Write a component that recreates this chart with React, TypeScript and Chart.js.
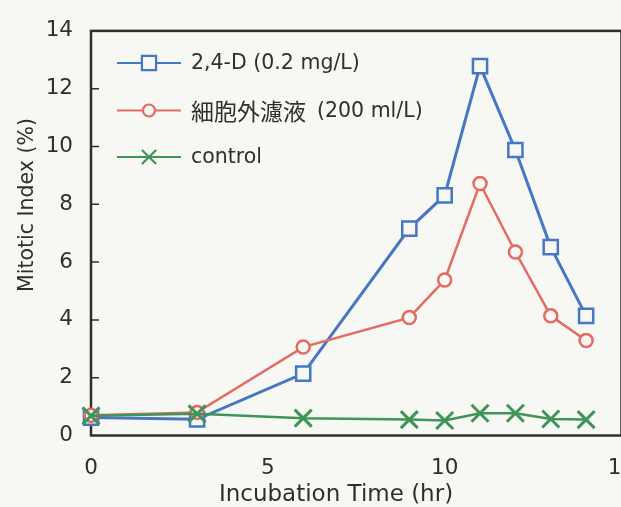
import React, { useEffect, useRef } from 'react';
import { Chart, registerables } from 'chart.js';

Chart.register(...registerables);

// ---- data ----
const hours = [0, 3, 6, 9, 10, 11, 12, 13, 14];
const d24Values = [0.62, 0.56, 2.14, 7.16, 8.31, 12.78, 9.88, 6.52, 4.14];
const filtrateValues = [0.7, 0.8, 3.06, 4.08, 5.38, 8.72, 6.35, 4.14, 3.29];
const controlValues = [0.68, 0.75, 0.6, 0.55, 0.52, 0.77, 0.77, 0.57, 0.55];
const seriesLabels = ['2,4-D (0.2 mg/L)', '細胞外濾液', 'control'];
const filtrateLabelTail = '(200 ml/L)';
const xTickValues = [0, 5, 10, 15];
const yTickValues = [0, 2, 4, 6, 8, 10, 12, 14];
const xTitle = 'Incubation Time (hr)';
const yTitle = 'Mitotic Index (%)';

const BG = '#f7f8f4';
const INK = '#2f2f2f';
const BLUE = '#4676c4';
const RED = '#e46a62';
const GREEN = '#3f9457';

const CW = 660;
const CH = 507;

function drawMarker(ctx: CanvasRenderingContext2D, style: string, x: number, y: number, r: number, color: string, lw: number) {
  ctx.save();
  ctx.strokeStyle = color;
  ctx.fillStyle = BG;
  ctx.lineWidth = lw;
  ctx.beginPath();
  if (style === 'rect') {
    const s = Math.SQRT1_2 * r;
    ctx.rect(x - s, y - s, 2 * s, 2 * s);
    ctx.fill();
    ctx.stroke();
  } else if (style === 'circle') {
    ctx.arc(x, y, r, 0, Math.PI * 2);
    ctx.fill();
    ctx.stroke();
  } else {
    const o = Math.SQRT1_2 * r;
    ctx.moveTo(x - o, y - o);
    ctx.lineTo(x + o, y + o);
    ctx.moveTo(x + o, y - o);
    ctx.lineTo(x - o, y + o);
    ctx.stroke();
  }
  ctx.restore();
}

const decorPlugin = {
  id: 'decor',
  beforeDraw(chart: any) {
    const ctx = chart.ctx as CanvasRenderingContext2D;
    ctx.save();
    ctx.fillStyle = BG;
    ctx.fillRect(0, 0, chart.width, chart.height);
    ctx.restore();
  },
  beforeDatasetsDraw(chart: any) {
    const ctx = chart.ctx as CanvasRenderingContext2D;
    const a = chart.chartArea;
    const yScale = chart.scales.y;
    ctx.save();
    ctx.strokeStyle = INK;
    ctx.lineWidth = 2.5;
    ctx.strokeRect(a.left, a.top, a.right - a.left, a.bottom - a.top);
    ctx.lineWidth = 1.5;
    ctx.beginPath();
    yTickValues.forEach((v) => {
      if (v === 0 || v === 14) return;
      const py = yScale.getPixelForValue(v);
      ctx.moveTo(a.left, py);
      ctx.lineTo(a.left + 8, py);
    });
    ctx.stroke();
    ctx.restore();
  },
  afterDraw(chart: any) {
    const ctx = chart.ctx as CanvasRenderingContext2D;
    ctx.save();
    ctx.fillStyle = INK;
    // axis titles
    ctx.font = "23px 'DejaVu Sans'";
    ctx.textAlign = 'center';
    ctx.textBaseline = 'alphabetic';
    ctx.fillText(xTitle, 336, 501);
    ctx.save();
    ctx.translate(33, 205);
    ctx.rotate(-Math.PI / 2);
    ctx.font = "20.5px 'DejaVu Sans'";
    ctx.fillText(yTitle, 0, 0);
    ctx.restore();

    // legend
    const rows = [63, 110.5, 157];
    const ds = chart.data.datasets;
    rows.forEach((ry, i) => {
      const d = ds[i];
      ctx.save();
      ctx.strokeStyle = d.borderColor;
      ctx.lineWidth = 2;
      ctx.beginPath();
      ctx.moveTo(117, ry);
      ctx.lineTo(181, ry);
      ctx.stroke();
      ctx.restore();
      const r = i === 0 ? 10 : i === 1 ? 6 : 10;
      drawMarker(ctx, d.pointStyle, 149, ry, r, d.borderColor, 2.2);
      ctx.fillStyle = INK;
      ctx.textAlign = 'left';
      ctx.textBaseline = 'middle';
      if (i === 1) {
        ctx.font = "23px 'Noto Sans CJK JP'";
        ctx.fillText(seriesLabels[1], 191, ry + 1);
        const w = ctx.measureText(seriesLabels[1]).width;
        ctx.font = "20.5px 'DejaVu Sans'";
        ctx.fillText(filtrateLabelTail, 191 + w + 11, ry + 1);
      } else {
        ctx.font = "20.5px 'DejaVu Sans'";
        ctx.fillText(seriesLabels[i], 191, ry + 1);
      }
    });
    ctx.restore();
  },
};

export default function App() {
  const ref = useRef<HTMLCanvasElement | null>(null);

  useEffect(() => {
    if (!ref.current) return;
    const toXY = (vals: number[]) => hours.map((h, i) => ({ x: h, y: vals[i] }));
    const chart = new Chart(ref.current, {
      type: 'line',
      data: {
        datasets: [
          {
            label: seriesLabels[0],
            data: toXY(d24Values),
            borderColor: BLUE,
            backgroundColor: BG,
            borderWidth: 3,
            pointStyle: 'rect',
            pointRadius: 10,
            pointBorderWidth: 2.5,
            pointBackgroundColor: BG,
            pointBorderColor: BLUE,
            clip: false,
            order: 3,
          },
          {
            label: seriesLabels[1] + filtrateLabelTail,
            data: toXY(filtrateValues),
            borderColor: RED,
            backgroundColor: BG,
            borderWidth: 2.5,
            pointStyle: 'circle',
            pointRadius: 6.5,
            pointBorderWidth: 2.5,
            pointBackgroundColor: BG,
            pointBorderColor: RED,
            clip: false,
            order: 2,
          },
          {
            label: seriesLabels[2],
            data: toXY(controlValues),
            borderColor: GREEN,
            backgroundColor: GREEN,
            borderWidth: 2.5,
            pointStyle: 'crossRot',
            pointRadius: 12,
            pointBorderWidth: 3,
            pointBorderColor: GREEN,
            clip: false,
            order: 1,
          },
        ] as any,
      },
      options: {
        responsive: false,
        animation: false,
        events: [],
        layout: { padding: { left: 0, right: CW - 621.5, top: 22, bottom: 0 } },
        plugins: {
          legend: { display: false },
          tooltip: { enabled: false },
          title: { display: false },
        },
        scales: {
          x: {
            type: 'linear',
            min: 0,
            max: 15,
            afterBuildTicks: (s: any) => {
              s.ticks = xTickValues.map((v) => ({ value: v }));
            },
            afterFit: (s: any) => {
              s.height = 71.5;
            },
            grid: { display: false, drawTicks: false },
            border: { display: false },
            ticks: {
              font: { family: 'DejaVu Sans', size: 21.5 },
              color: INK,
              padding: 20,
              maxRotation: 0,
              autoSkip: false,
            },
          },
          y: {
            type: 'linear',
            min: 0,
            max: 14,
            afterBuildTicks: (s: any) => {
              s.ticks = yTickValues.map((v) => ({ value: v }));
            },
            afterFit: (s: any) => {
              s.width = 91;
            },
            grid: { display: false, drawTicks: false },
            border: { display: false },
            ticks: {
              font: { family: 'DejaVu Sans', size: 21.5 },
              color: INK,
              padding: 18,
              autoSkip: false,
            },
          },
        },
      } as any,
      plugins: [decorPlugin],
    });
    return () => chart.destroy();
  }, []);

  return (
    <div
      style={{
        position: 'fixed',
        left: 0,
        top: 0,
        width: 621,
        height: 507,
        overflow: 'hidden',
        background: BG,
      }}
    >
      <canvas ref={ref} width={CW} height={CH} style={{ display: 'block' }} />
    </div>
  );
}
